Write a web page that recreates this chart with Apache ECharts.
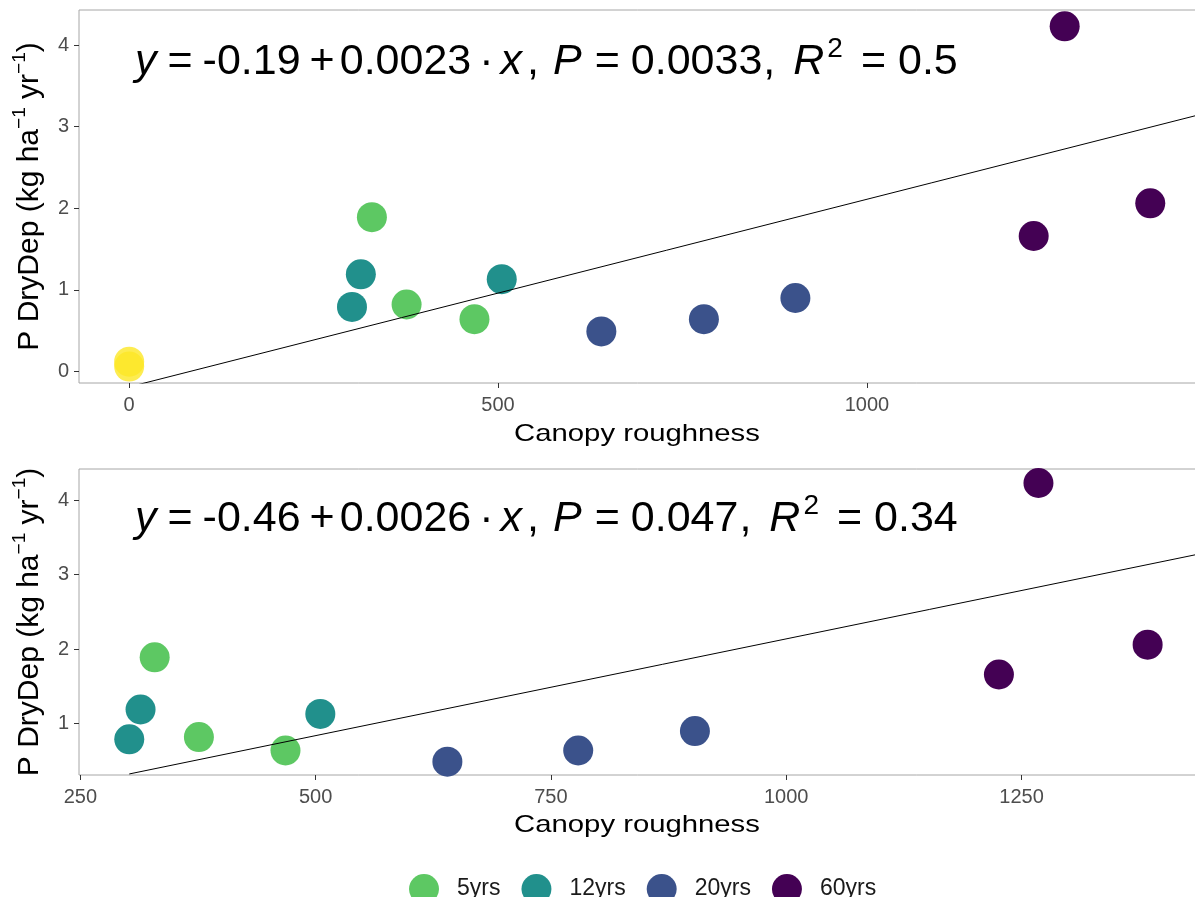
<!DOCTYPE html>
<html>
<head>
<meta charset="utf-8">
<script src="https://cdn.jsdelivr.net/npm/echarts@6/dist/echarts.min.js"></script>
<style>
html,body{margin:0;padding:0;background:#fff;}
#c{width:1195px;height:897px;}
</style>
</head>
<body>
<div id="c"></div>
<script>
// ---- data ----
const groups = ['5yrs', '12yrs', '20yrs', '60yrs'];
const x5 = [329, 376, 468];
const y5 = [1.89, 0.82, 0.64];
const x12 = [302, 314, 505];
const y12 = [0.79, 1.19, 1.13];
const x20 = [640, 779, 903];
const y20 = [0.49, 0.64, 0.90];
const x60 = [1226, 1268, 1384];
const y60 = [1.66, 4.23, 2.06];
const x0 = [0, 0];          // yellow points (top panel only)
const y0 = [0.06, 0.12];
const fitTopX = [0, 1446];
const fitTopY = [-0.19, 3.136];
const fitBotX = [302, 1436];
const fitBotY = [0.325, 3.27];
const topXTicks = [0, 500, 1000];
const topYTicks = [0, 1, 2, 3, 4];
const botXTicks = [250, 500, 750, 1000, 1250];
const botYTicks = [1, 2, 3, 4];
const eqTop = ['-0.19', '0.0023', '0.0033', '0.5'];
const eqBot = ['-0.46', '0.0026', '0.047', '0.34'];

const colors = {'5yrs':'#5DC863','12yrs':'#21908C','20yrs':'#3B528B','60yrs':'#440154','0yrs':'#FDE725'};
const zip = (a,b) => a.map((v,i)=>[v,b[i]]);
const groupData = {'5yrs':[x5,y5],'12yrs':[x12,y12],'20yrs':[x20,y20],'60yrs':[x60,y60]};

const FONT = 'Liberation Sans, Arial, sans-serif';
const tickLabel = {color:'#4D4D4D', fontSize:20, fontFamily:FONT, formatter:v=>String(v)};

function xAxisCfg(gi, min, max, ticks){
  return {
    gridIndex: gi, type:'value', min:min, max:max,
    splitLine:{show:false},
    axisLine:{show:false, onZero:false},
    axisTick:{show:true, length:5, inside:false, customValues:ticks, lineStyle:{color:'#333', width:1}},
    axisLabel:{show:true, margin:12, customValues:ticks, ...tickLabel}
  };
}
function yAxisCfg(gi, min, max, ticks){
  return {
    gridIndex: gi, type:'value', min:min, max:max,
    splitLine:{show:false},
    axisLine:{show:false, onZero:false},
    axisTick:{show:true, length:5, inside:false, customValues:ticks, lineStyle:{color:'#333', width:1}},
    axisLabel:{show:true, margin:10, customValues:ticks, ...tickLabel},
    name:'{n|P DryDep (kg ha}{s|−1}{n| yr}{s|−1}{n|)}', nameLocation:'middle', nameGap:29,
    nameTextStyle:{color:'#000', fontFamily:FONT,
      rich:{n:{fontSize:30, color:'#000', fontFamily:FONT, lineHeight:40},
            s:{fontSize:19, color:'#000', fontFamily:FONT, lineHeight:19, verticalAlign:'top'}}}
  };
}

const series = [];
[0,1].forEach(gi=>{
  groups.forEach(g=>{
    series.push({
      name:g, type:'scatter', xAxisIndex:gi, yAxisIndex:gi,
      data: zip(groupData[g][0], groupData[g][1]),
      symbolSize:30, itemStyle:{color:colors[g], opacity:1}, z:2
    });
  });
});
series.push({name:'0yrs', type:'scatter', xAxisIndex:0, yAxisIndex:0,
  data: zip(x0,y0), symbolSize:30, itemStyle:{color:colors['0yrs']}, z:2});
series.push({name:'fitTop', type:'line', xAxisIndex:0, yAxisIndex:0,
  data: zip(fitTopX, fitTopY), symbol:'none', clip:true,
  lineStyle:{color:'#000', width:1}, z:5, silent:true});
series.push({name:'fitBot', type:'line', xAxisIndex:1, yAxisIndex:1,
  data: zip(fitBotX, fitBotY), symbol:'none', clip:true,
  lineStyle:{color:'#000', width:1}, z:5, silent:true});

// equation rich text
const EQF = 43;
const eqRich = {};
const padsList = [0,11,10,9,5,8,7,5,14,13,11,1,18,3,18,12];
padsList.forEach((p,k)=>{
  eqRich['n'+k] = {fontSize:EQF, fontFamily:FONT, color:'#000', lineHeight:70, padding:[0,0,0,p]};
  eqRich['i'+k] = {fontSize:EQF, fontFamily:FONT, fontStyle:'italic', color:'#000', lineHeight:70, padding:[0,0,0,p]};
  eqRich['s'+k] = {fontSize:28, fontFamily:FONT, color:'#000', lineHeight:28, verticalAlign:'top', padding:[8,0,0,p]};
});
function eqText(v){
  const toks = [['i','y'],['n','='],['n',v[0]],['n','+'],['n',v[1]],['n','·'],['i','x'],['n',','],
                ['i','P'],['n','='],['n',v[2]],['n',','],['i','R'],['s','2'],['n','='],['n',v[3]]];
  return toks.map((t,k)=>'{'+t[0]+k+'|'+t[1]+'}').join('');
}

const titleStyle = {text:'Canopy roughness', fontSize:24, fontFamily:FONT, fill:'#000', align:'center', verticalAlign:'middle'};

const option = {
  backgroundColor:'#fff',
  animation:false,
  grid:[
    {left:79, top:10, width:1117, height:373, show:true, borderColor:'#a6a6a6', borderWidth:1, containLabel:false, outerBoundsMode:'none'},
    {left:79, top:469, width:1117, height:306, show:true, borderColor:'#a6a6a6', borderWidth:1, containLabel:false, outerBoundsMode:'none'}
  ],
  xAxis:[xAxisCfg(0,-68,1446,topXTicks), xAxisCfg(1,248.6,1435.4,botXTicks)],
  yAxis:[yAxisCfg(0,-0.142,4.43,topYTicks), yAxisCfg(1,0.311,4.418,botYTicks)],
  legend:{
    data:groups, left:404, top:869, icon:'circle', itemWidth:30, itemHeight:30, itemGap:21,
    textStyle:{color:'#1a1a1a', fontSize:23, fontFamily:FONT, padding:[0,0,0,13]}
  },
  graphic:[
    {type:'text', x:135, y:27, z:10, style:{text:eqText(eqTop), rich:eqRich}},
    {type:'text', x:135, y:484, z:10, style:{text:eqText(eqBot), rich:eqRich}},
    {type:'text', x:637, y:434, scaleX:1.22, z:10, style:titleStyle},
    {type:'text', x:637, y:825, scaleX:1.22, z:10, style:titleStyle}
  ],
  series:series
};
const chart = echarts.init(document.getElementById('c'), null, {renderer:'canvas'});
chart.setOption(option);
</script>
</body>
</html>
